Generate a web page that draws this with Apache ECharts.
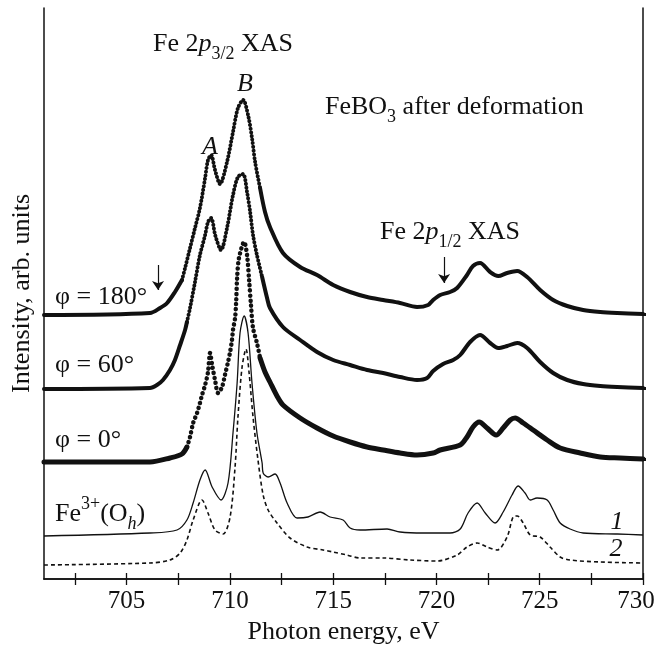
<!DOCTYPE html>
<html><head><meta charset="utf-8">
<script src="https://cdn.jsdelivr.net/npm/echarts@6/dist/echarts.min.js"></script>
<style>html,body{margin:0;padding:0;background:#fff}#c{width:656px;height:648px}</style>
</head><body><div id="c"></div>
<script>
// ---- axis ticks ----
const xTickLabels = [705, 710, 715, 720, 725, 730];
const xTicks = [702.5, 705, 707.5, 710, 712.5, 715, 717.5, 720, 722.5, 725, 727.5, 730];
const rightBaselines = [265, 191, 120];

// ---- phi = 180 deg (energy eV, intensity arb.) ----
const phi180Left = [[701,264],[706.13,266],[706.62,271],[706.96,276],[707.34,287],[707.68,299]];
const phi180Dots = [[707.68,299],[707.83,311],[708.07,331],[708.31,351],[708.55,371],[708.80,401],[708.94,419],[709.09,424],[709.28,409],[709.52,395],[709.86,417],[710.15,447],[710.39,471],[710.64,479],[710.88,464],[711.07,441],[711.22,417],[711.46,391]];
const phi180Right = [[711.46,391],[711.70,367],[711.94,352],[712.57,326],[713.40,312],[714.22,304],[715.00,294],[715.82,287],[716.64,282],[717.42,279],[718.24,276],[719.06,272],[719.60,274],[719.84,279],[720.18,284],[720.66,287],[721.00,291],[721.48,304],[721.77,313],[722.11,316],[722.60,307],[722.99,303],[723.42,306],[723.91,308],[724.39,302],[725.02,289],[725.65,279],[726.33,273],[727.10,269],[727.93,267],[728.75,266],[730,265]];

// ---- phi = 60 deg ----
const phi60Left = [[701,190],[706.13,191],[706.47,194],[706.76,199],[707.10,209],[707.34,219],[707.59,234],[707.83,249],[707.92,257]];
const phi60Dots = [[707.92,257],[708.07,271],[708.31,297],[708.55,324],[708.80,344],[708.94,357],[709.09,361],[709.30,343],[709.57,329],[709.86,351],[710.15,384],[710.39,402],[710.64,405],[710.83,387],[710.98,367],[711.12,344],[711.31,324],[711.56,302]];
const phi60Right = [[711.56,302],[711.80,281],[711.94,271],[712.57,252],[713.40,239],[714.22,227],[715.00,219],[715.82,214],[716.64,209],[717.42,206],[718.24,202],[719.06,199],[719.55,201],[719.84,208],[720.32,215],[720.81,219],[721.15,224],[721.63,237],[722.11,244],[722.60,236],[722.99,231],[723.42,233],[723.91,236],[724.39,231],[725.02,217],[725.65,206],[726.33,199],[727.10,195],[727.93,193],[728.75,192],[730,191]];

// ---- phi = 0 deg ----
const phi0Left = [[701,117],[706.13,117],[707.10,121],[707.68,125],[707.92,132]];
const phi0Dots = [[707.92,132],[708.07,142],[708.22,156],[708.41,166],[708.55,176],[708.65,184],[708.80,194],[708.94,207],[709.04,226],[709.14,214],[709.28,199],[709.43,186],[709.62,192],[709.76,204],[709.91,217],[710.01,227],[710.10,239],[710.15,249],[710.25,261],[710.30,276],[710.35,301],[710.44,321],[710.69,337],[710.83,324],[710.93,299],[711.02,274],[711.12,251],[711.31,236],[711.46,221]];
const phi0Right = [[711.46,221],[711.70,207],[711.94,197],[712.28,183],[712.57,174],[713.40,161],[714.22,151],[715.00,143],[715.82,137],[716.64,132],[717.42,129],[718.24,126],[719.06,124],[719.84,126],[720.18,129],[721.15,134],[721.48,142],[721.77,152],[722.07,157],[722.45,151],[722.89,144],[723.23,151],[723.57,159],[723.81,161],[724.20,156],[724.68,149],[725.36,139],[725.99,131],[726.96,126],[727.93,122],[728.89,121],[730,120]];

// ---- calculated Fe3+(Oh) spectra 1 and 2 ----
const calc1 = [[701,43],[706.13,46],[707.44,49],[707.92,59],[708.22,76],[708.55,99],[708.80,109],[709.14,92],[709.57,79],[709.91,96],[710.15,146],[710.35,196],[710.49,246],[710.69,263],[710.88,246],[711.07,196],[711.31,146],[711.56,116],[711.61,106],[711.85,102],[712.19,105],[712.43,96],[712.77,76],[713.25,61],[713.78,62],[714.37,67],[714.85,62],[715.48,59],[715.82,51],[716.30,49],[717.61,50],[718.24,47],[719.35,46],[720.66,46],[721.15,50],[721.53,66],[721.97,76],[722.36,66],[722.84,56],[723.23,67],[723.66,84],[723.95,93],[724.29,86],[724.54,79],[724.87,81],[725.36,79],[725.65,69],[725.99,56],[726.47,50],[727.10,46],[728.75,45],[730,44]];
const calc2 = [[701,14],[706.13,16],[707.10,19],[707.59,26],[707.92,39],[708.22,59],[708.65,79],[708.94,66],[709.28,49],[709.67,45],[710.01,62],[710.25,112],[710.39,162],[710.59,212],[710.78,230],[710.93,206],[711.12,162],[711.36,119],[711.61,84],[711.85,69],[712.28,56],[712.91,41],[713.74,32],[714.51,29],[715.00,27],[715.67,24],[716.30,21],[717.42,21],[718.72,19],[720.03,18],[721.00,24],[721.48,32],[721.97,36],[722.45,32],[722.94,29],[723.42,42],[723.71,62],[723.91,63],[724.20,56],[724.54,44],[725.02,42],[725.50,32],[725.99,22],[726.47,19],[727.93,17],[730,16]];

// ---- arrows (energy, from, to) ----
const arrows = [[706.52, 314, 289], [720.37, 322, 296]];

const FONT = '"Liberation Serif","Times New Roman",serif';
const INK = '#111';

function solid(data, w) {
  return { type: 'line', data, showSymbol: false, smooth: 0.3, silent: true,
    lineStyle: { color: INK, width: w, cap: 'round', join: 'round' }, z: 3 };
}
function dots(data, w, gap) {
  return { type: 'line', data, showSymbol: false, smooth: 0.3, silent: true,
    lineStyle: { color: INK, width: w, type: [0.1, gap], cap: 'round' }, z: 3 };
}

const rich = {
  n: { fontFamily: FONT, fontSize: 26, lineHeight: 38, color: INK },
  i: { fontFamily: FONT, fontSize: 26, lineHeight: 38, fontStyle: 'italic', color: INK },
  sub: { fontFamily: FONT, fontSize: 18, lineHeight: 18, verticalAlign: 'bottom', color: INK },
  subi: { fontFamily: FONT, fontSize: 18, lineHeight: 18, verticalAlign: 'bottom', fontStyle: 'italic', color: INK },
  sup: { fontFamily: FONT, fontSize: 18, lineHeight: 18, verticalAlign: 'top', color: INK }
};
function txt(x, y, text, align) {
  return { type: 'text', x, y, silent: true, z: 10,
    style: { text, rich, font: '26px ' + FONT, fill: INK, align: align || 'left', verticalAlign: 'middle' } };
}

const chart = echarts.init(document.getElementById('c'), null, { renderer: 'canvas' });
const markArrows = arrows.map(a => [{ coord: [a[0], a[1]] }, { coord: [a[0], a[2]] }]);

const s180 = solid(phi180Left, 4);
s180.markLine = { silent: true, symbol: ['none', 'arrow'], symbolSize: 9,
  label: { show: false }, lineStyle: { color: INK, width: 1.2, type: 'solid' },
  emphasis: { disabled: true }, animation: false, data: markArrows };

const lastTick = xTickLabels[xTickLabels.length - 1];

chart.setOption({
  animation: false,
  backgroundColor: '#fff',
  grid: { left: 44, right: 13, top: 8, bottom: 69, outerBoundsMode: 'none', containLabel: false },
  xAxis: [{
    type: 'value', min: 701, max: 730, position: 'bottom',
    name: 'Photon energy, eV', nameLocation: 'middle', nameGap: 38,
    nameTextStyle: { fontFamily: FONT, fontSize: 26, color: INK },
    axisLine: { lineStyle: { color: INK, width: 1.5 } },
    axisTick: { inside: true, length: 6, customValues: xTicks, lineStyle: { color: INK, width: 1.3 } },
    axisLabel: { customValues: xTickLabels, fontFamily: FONT, fontSize: 25, color: INK, margin: 10,
      formatter: v => (v === lastTick ? '{r|' + v + '}' : String(v)),
      rich: { r: { fontFamily: FONT, fontSize: 25, color: INK, padding: [0, 14, 0, 0] } } },
    splitLine: { show: false }
  }, {
    type: 'value', min: 701, max: 730, position: 'top',
    axisLine: { lineStyle: { color: INK, width: 1.5 } },
    axisTick: { inside: true, length: 6, customValues: xTicks, lineStyle: { color: INK, width: 1.3 } },
    axisLabel: { show: false }, splitLine: { show: false }
  }],
  yAxis: [{
    type: 'value', min: 0, max: 571, position: 'left',
    name: 'Intensity, arb. units', nameLocation: 'middle', nameGap: 9,
    nameTextStyle: { fontFamily: FONT, fontSize: 26, color: INK },
    axisLine: { show: true, lineStyle: { color: INK, width: 1.5 } },
    axisTick: { show: false }, axisLabel: { show: false }, splitLine: { show: false }
  }, {
    type: 'value', min: 0, max: 571, position: 'right',
    axisLine: { show: true, lineStyle: { color: INK, width: 1.5 } },
    axisTick: { show: true, inside: false, length: 3, customValues: rightBaselines, lineStyle: { color: INK, width: 3 } },
    axisLabel: { show: false }, splitLine: { show: false }
  }],
  series: [
    s180, dots(phi180Dots, 4, 3.6), solid(phi180Right, 4),
    solid(phi60Left, 4), dots(phi60Dots, 4, 3.6), solid(phi60Right, 4),
    solid(phi0Left, 5), dots(phi0Dots, 4.5, 5), solid(phi0Right, 5),
    { type: 'line', data: calc1, showSymbol: false, smooth: 0.3, silent: true,
      lineStyle: { color: INK, width: 1.3 }, z: 2 },
    { type: 'line', data: calc2, showSymbol: false, smooth: 0.3, silent: true,
      lineStyle: { color: INK, width: 1.6, type: [4, 3] }, z: 2 }
  ],
  graphic: [
    txt(153, 44, '{n|Fe 2}{i|p}{sub|3/2}{n| XAS}'),
    txt(245, 84, '{i|B}', 'center'),
    txt(210, 147, '{i|A}', 'center'),
    txt(325, 107, '{n|FeBO}{sub|3}{n| after deformation}'),
    txt(380, 232, '{n|Fe 2}{i|p}{sub|1/2}{n| XAS}'),
    txt(55, 297, '{n|φ = 180°}'),
    txt(55, 365, '{n|φ = 60°}'),
    txt(55, 440, '{n|φ = 0°}'),
    txt(55, 514, '{n|Fe}{sup|3+}{n|(O}{subi|h}{n|)}'),
    txt(617, 522, '{i|1}', 'center'),
    txt(616, 549, '{i|2}', 'center')
  ]
});
</script>
</body></html>
